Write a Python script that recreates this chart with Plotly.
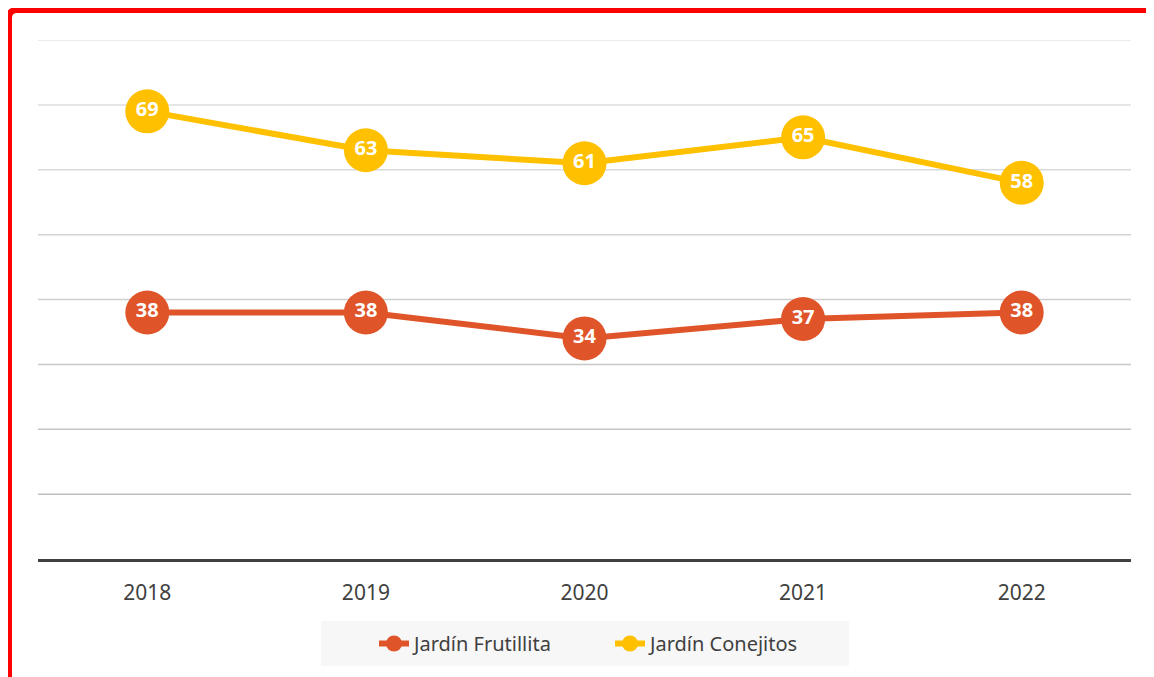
import plotly.graph_objects as go

years = ["2018", "2019", "2020", "2021", "2022"]
frutillita = [38, 38, 34, 37, 38]
conejitos = [69, 63, 61, 65, 58]
grid_values = [10, 20, 30, 40, 50, 60, 70, 80]

OFF = 8  # page body margin in browser
W, H = 1154, 677
# plot area in viewport pixels: x 38..1131, y 40..559
L = 38 - OFF
T = 40 - OFF
R = W - (1131 - OFF)
B = H - (559 - OFF)
pw, ph = 1131 - 38, 559 - 40

def fx(p):
    return (p - 38) / pw

def fy(p):
    return (559 - p) / ph

fig = go.Figure()
for name, vals, col in [("Jardín Frutillita", frutillita, "#E0542A"),
                        ("Jardín Conejitos", conejitos, "#FFC000")]:
    fig.add_trace(go.Scatter(
        x=years, y=vals, name=name, mode="lines+markers+text",
        line=dict(color=col, width=6),
        marker=dict(color=col, size=44, line=dict(width=0)),
        text=[str(v) for v in vals], textposition="middle center",
        textfont=dict(color="white", size=20, family="Noto Sans", weight="bold"),
        cliponaxis=False,
    ))

shapes = []
n = len(grid_values)
for i, g in enumerate(grid_values):
    c = int(0xBE + (0xE4 - 0xBE) * i / (n - 1))
    shapes.append(dict(type="line", xref="paper", yref="y", x0=0, x1=1, y0=g, y1=g,
                       line=dict(color=f"rgb({c},{c},{c})", width=1.5), layer="below"))
shapes += [
    dict(type="rect", xref="paper", yref="paper",
         x0=fx(321), x1=fx(849), y0=fy(666), y1=fy(621),
         fillcolor="#F7F7F7", line=dict(width=0), layer="below"),
    dict(type="path", xref="paper", yref="paper",
         path=f"M {fx(9)},{fy(720)} L {fx(9)},{fy(18)} Q {fx(9)},{fy(10)} {fx(17)},{fy(10)} L {fx(1220)},{fy(10)}",
         line=dict(color="#FF0000", width=6)),
]

fig.update_layout(
    width=W, height=H,
    margin=dict(l=L, r=R, t=T, b=B),
    plot_bgcolor="white", paper_bgcolor="white",
    font=dict(family="Noto Sans", color="#404040", size=20),
    showlegend=True,
    legend=dict(orientation="h", x=fx(610), xanchor="center", y=fy(624), yanchor="top",
                bgcolor="rgba(0,0,0,0)", font=dict(size=20, color="#404040"),
                entrywidth=191, traceorder="normal"),
    shapes=shapes,
)
fig.update_xaxes(range=[-0.5, 4.5], showgrid=False, showline=True, linecolor="#404040",
                 linewidth=3, ticks="outside", ticklen=13, tickcolor="rgba(0,0,0,0)",
                 tickfont=dict(size=21, color="#404040"), fixedrange=True)
fig.update_yaxes(range=[0, 80], showticklabels=False, showgrid=False,
                 zeroline=False, showline=False)

fig.write_html("out.html")
